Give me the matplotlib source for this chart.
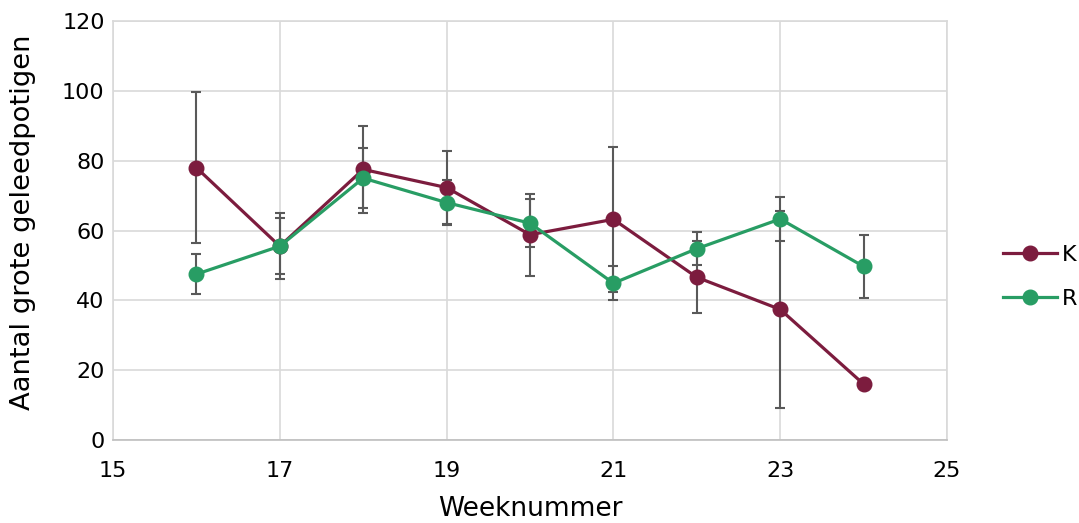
import numpy as np
from matplotlib import pyplot as plt

plt.rcParams["font.family"] = "DejaVu Sans"

# colours
kColor = "#7C1C3E"
rColor = "#289D64"
errColor = "#595959"
gridColor = "#D9D9D9"

# data
weeks = [16, 17, 18, 19, 20, 21, 22, 23, 24]
k_values = [78, 55.5, 77.5, 72.3, 58.8, 63.2, 46.6, 37.4, 16]
k_err = [21.7, 9.5, 12.5, 10.5, 11.8, 20.8, 10.3, 28.3, 0]
r_values = [47.5, 55.5, 75, 68, 62.1, 44.9, 54.8, 63.3, 49.7]
r_err = [5.8, 8, 8.5, 6.5, 6.9, 4.8, 4.7, 6.3, 8.9]

fig = plt.figure(figsize=(10.79, 5.23), dpi=100)
ax = fig.add_axes([0.1047, 0.1587, 0.7730, 0.8011])

# error bars first, lines over them
ax.errorbar(weeks, k_values, yerr=k_err, fmt="none", ecolor=errColor, elinewidth=1.5, capsize=3.6, capthick=1.5, zorder=3)
ax.errorbar(weeks, r_values, yerr=r_err, fmt="none", ecolor=errColor, elinewidth=1.5, capsize=3.6, capthick=1.5, zorder=3)

ax.plot(weeks, k_values, color=kColor, linewidth=2.3, marker="o", markersize=10.5, label="K", zorder=4)
ax.plot(weeks, r_values, color=rColor, linewidth=2.3, marker="o", markersize=10.5, label="R", zorder=5)

ax.set_xlim(15, 25)
ax.set_ylim(0, 120)
ax.set_xticks(np.arange(15, 26, 2))
ax.set_yticks(np.arange(0, 121, 20))
ax.tick_params(axis="both", length=0, labelsize=16)
ax.tick_params(axis="x", pad=15)
ax.tick_params(axis="y", pad=6)

ax.grid(color=gridColor, linewidth=1.2)
ax.set_axisbelow(True)
for spine in ax.spines.values():
    spine.set_color(gridColor)
    spine.set_linewidth(1.2)
ax.spines["bottom"].set_color("#BFBFBF")

ax.set_xlabel("Weeknummer", fontsize=19)
ax.set_ylabel("Aantal grote geleedpotigen", fontsize=19.7)
ax.xaxis.set_label_coords(0.5, -0.134)
ax.yaxis.set_label_coords(-0.092, 0.52)

fig.legend(loc="center left", bbox_to_anchor=(0.9296, 0.4704), frameon=False, fontsize=16,
           handlelength=2.45, handletextpad=0.2, labelspacing=1.1, borderpad=0, borderaxespad=0)

plt.savefig("out.png", dpi=100)
